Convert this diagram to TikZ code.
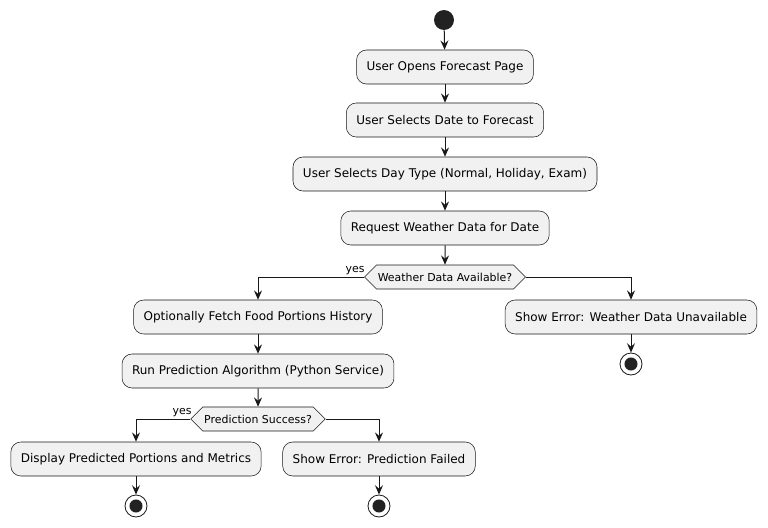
\documentclass[tikz,border=0pt]{standalone}
\usepackage{fontspec}
\setmainfont{DejaVu Sans}
\usepackage{tikz}
\usetikzlibrary{shapes.symbols,arrows.meta}
\definecolor{boxfill}{HTML}{F1F1F1}
\definecolor{linecol}{HTML}{181818}
\definecolor{dotcol}{HTML}{222222}
\begin{document}
\begin{tikzpicture}[x=0.75pt,y=-0.75pt,>={Stealth[length=7pt,width=6pt,inset=2.5pt]},
		action/.style={draw=linecol,fill=boxfill,line width=0.4pt,rounded corners=7.5pt,minimum height=25.5pt,inner xsep=7.5pt,font=\fontsize{9}{11}\selectfont},
		choice/.style={signal,signal to=west and east,signal pointer angle=90,draw=linecol,fill=boxfill,line width=0.4pt,minimum height=18pt,inner xsep=1pt,inner ysep=2pt,font=\fontsize{8.2}{10}\selectfont},
		startdot/.style={circle,fill=dotcol,minimum size=15pt,inner sep=0pt},
		stopdot/.style={circle,draw=linecol,line width=0.6pt,fill=white,minimum size=16.5pt,inner sep=0pt,
			path picture={\fill[dotcol] (path picture bounding box.center) circle (4.9pt);}},
		flow/.style={draw=linecol,line width=0.75pt,arrows=->},
		answer/.style={font=\fontsize{8.2}{10}\selectfont,inner sep=0pt}]
			\useasboundingbox (0,0) rectangle (768,528);
			\node[startdot] (start) at (444,20) {};
			\node[action] (open) at (445,67) {User Opens Forecast Page};
			\node[action] (date) at (445,120) {User Selects Date to Forecast};
			\node[action] (daytype) at (445,174) {User Selects Day Type (Normal, Holiday, Exam)};
			\node[action] (weather) at (445,228) {Request Weather Data for Date};
			\node[choice] (avail) at (445,277) {Weather Data Available?};
			\node[answer] (yesA) at (355,271) {yes};
			\node[action] (fetch) at (258,317) {Optionally Fetch Food Portions History};
			\node[action] (noweather) at (631,317) {Show Error: Weather Data Unavailable};
			\node[stopdot] (stopA) at (631,364) {};
			\node[action] (run) at (258,371) {Run Prediction Algorithm (Python Service)};
			\node[choice] (success) at (258,419) {Prediction Success?};
			\node[answer] (yesB) at (182,413) {yes};
			\node[action] (display) at (136,459) {Display Predicted Portions and Metrics};
			\node[action] (failed) at (379,459) {Show Error: Prediction Failed};
			\node[stopdot] (stopB) at (136,506) {};
			\node[stopdot] (stopC) at (379,506) {};
			\draw[flow] (start) -- (open);
			\draw[flow] (open) -- (date);
			\draw[flow] (date) -- (daytype);
			\draw[flow] (daytype) -- (weather);
			\draw[flow] (weather) -- (avail);
			\draw[flow] (avail.west) -| (fetch.north);
			\draw[flow] (avail.east) -| (noweather.north);
			\draw[flow] (noweather) -- (stopA);
			\draw[flow] (fetch) -- (run);
			\draw[flow] (run) -- (success);
			\draw[flow] (success.west) -| (display.north);
			\draw[flow] (success.east) -| (failed.north);
			\draw[flow] (display) -- (stopB);
			\draw[flow] (failed) -- (stopC);
		\end{tikzpicture}
\end{document}
